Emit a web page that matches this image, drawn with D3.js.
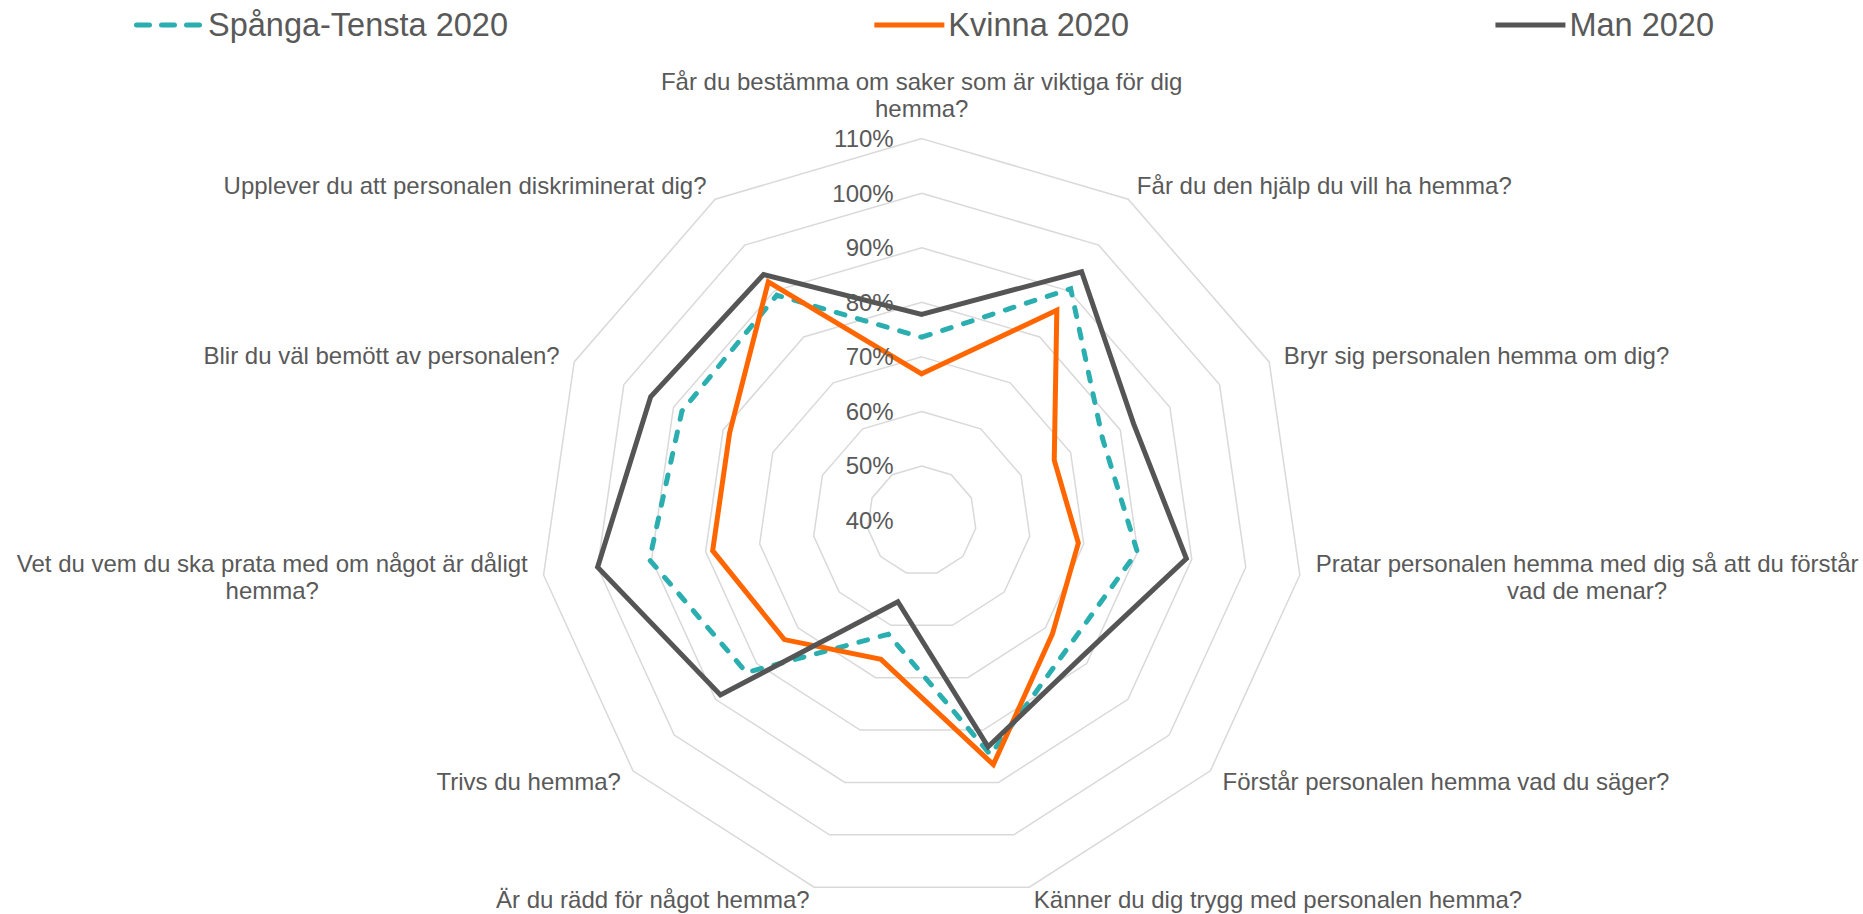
<!DOCTYPE html>
<html>
<head>
<meta charset="utf-8">
<script src="https://cdn.jsdelivr.net/npm/d3@7"></script>
<style>
  body { margin: 0; background: #fff; }
  svg { display: block; font-family: "Liberation Sans", Arial, sans-serif; }
</style>
</head>
<body>
<svg id="chart" width="1863" height="914"></svg>
<script>
// Survey questions (one spoke each, clockwise from the top)
const categories = [
  "Får du bestämma om saker som är viktiga för dig hemma?",
  "Får du den hjälp du vill ha hemma?",
  "Bryr sig personalen hemma om dig?",
  "Pratar personalen hemma med dig så att du förstår vad de menar?",
  "Förstår personalen hemma vad du säger?",
  "Känner du dig trygg med personalen hemma?",
  "Är du rädd för något hemma?",
  "Trivs du hemma?",
  "Vet du vem du ska prata med om något är dåligt hemma?",
  "Blir du väl bemött av personalen?",
  "Upplever du att personalen diskriminerat dig?"
];

// Share answering positively, per question
const spangaTensta = [0.736, 0.905, 0.764, 0.799, 0.755, 0.847, 0.617, 0.825, 0.904, 0.883, 0.891];
const kvinna       = [0.669, 0.858, 0.667, 0.690, 0.717, 0.866, 0.665, 0.733, 0.787, 0.787, 0.920];
const man          = [0.778, 0.942, 0.827, 0.890, 0.785, 0.832, 0.555, 0.888, 1.000, 0.946, 0.936];

const seriesNames = ["Spånga-Tensta 2020", "Kvinna 2020", "Man 2020"];
const tickValues = [0.4, 0.5, 0.6, 0.7, 0.8, 0.9, 1.0, 1.1];

const series = [
  { name: seriesNames[0], values: spangaTensta, color: "#2BAEAF", dash: "9 13", legendDash: "13 12" },
  { name: seriesNames[1], values: kvinna,       color: "#FF6600", dash: null },
  { name: seriesNames[2], values: man,          color: "#555555", dash: null }
];

const width = 1863, height = 914;
const cx = 921.7, cy = 520.6, radius = 382;
const textColor = "#595959";
const labelFont = 24, legendFont = 32.5, lineHeight = 27.5;

const svg = d3.select("#chart");

const r = d3.scaleLinear().domain([tickValues[0], tickValues[tickValues.length - 1]]).range([0, radius]);
const angle = d3.scaleLinear().domain([0, categories.length]).range([0, 2 * Math.PI]);
const pct = d3.format(".0%");

const plot = svg.append("g").attr("transform", `translate(${cx},${cy})`);

// Concentric grid polygons
const gridLine = level => d3.lineRadial()
  .angle((d, i) => angle(i))
  .radius(() => r(level))
  .curve(d3.curveLinearClosed)(categories);

plot.append("g").selectAll("path")
  .data(tickValues.filter(t => r(t) > 0))
  .join("path")
  .attr("d", gridLine)
  .attr("fill", "none")
  .attr("stroke", "#D9D9D9")
  .attr("stroke-width", 1.5);

// Series outlines
const seriesLine = d3.lineRadial()
  .angle((d, i) => angle(i))
  .radius(d => r(d))
  .curve(d3.curveLinearClosed);

plot.append("g").selectAll("path")
  .data(series)
  .join("path")
  .attr("d", d => seriesLine(d.values))
  .attr("fill", "none")
  .attr("stroke", d => d.color)
  .attr("stroke-width", 5)
  .attr("stroke-linejoin", "miter")
  .attr("stroke-linecap", d => d.dash ? "round" : "butt")
  .attr("stroke-dasharray", d => d.dash);

// Radial value labels along the top spoke
plot.append("g").selectAll("text")
  .data(tickValues)
  .join("text")
  .attr("x", -28)
  .attr("y", d => -r(d))
  .attr("dy", "0.35em")
  .attr("text-anchor", "end")
  .attr("font-size", labelFont)
  .attr("fill", textColor)
  .text(d => pct(d));

// Category labels, wrapped to a max width
const measurer = svg.append("text").attr("font-size", labelFont).attr("visibility", "hidden");
const measure = s => { measurer.text(s); return measurer.node().getComputedTextLength(); };
function wrap(str, maxW) {
  const words = str.split(" ");
  const lines = [];
  let cur = "";
  words.forEach(w => {
    const test = cur ? cur + " " + w : w;
    if (cur && measure(test) > maxW) { lines.push(cur); cur = w; }
    else cur = test;
  });
  if (cur) lines.push(cur);
  return lines;
}

const labelGap = 16;
const maxCentreY = height - cy - 0.6 * labelFont;   // keep descenders inside the canvas
const labelG = plot.append("g");
categories.forEach((cat, i) => {
  const a = angle(i);
  const px = Math.sin(a) * (radius + labelGap);
  const py = -Math.cos(a) * (radius + labelGap);
  const lines = wrap(cat, 550);
  const blockW = d3.max(lines, measure);
  const n = lines.length;
  let xMid, y0;
  if (Math.abs(Math.sin(a)) < 0.01) {
    xMid = px;
    y0 = py - (n - 0.5) * lineHeight;          // block sits above the spoke tip
  } else {
    xMid = Math.sin(a) > 0 ? px + blockW / 2 : px - blockW / 2;
    y0 = py - (n - 1) * lineHeight / 2;        // block centred on the spoke
  }
  y0 = Math.min(y0, maxCentreY - (n - 1) * lineHeight);
  lines.forEach((ln, k) => {
    labelG.append("text")
      .attr("x", xMid)
      .attr("y", y0 + k * lineHeight)
      .attr("dy", "0.35em")
      .attr("text-anchor", "middle")
      .attr("font-size", labelFont)
      .attr("fill", textColor)
      .text(ln);
  });
});
measurer.remove();

// Legend across the top, spread evenly over the chart width
const legendY = 25, sampleW = 70, sampleGap = 4;
const legendSpan = [134, 1714];
const legend = svg.append("g");
const items = series.map(s => {
  const g = legend.append("g");
  g.append("line")
    .attr("x1", s.dash ? 2.5 : 0).attr("x2", s.dash ? sampleW - 2.5 : sampleW)
    .attr("y1", legendY).attr("y2", legendY)
    .attr("stroke", s.color)
    .attr("stroke-width", 5)
    .attr("stroke-linecap", s.dash ? "round" : "butt")
    .attr("stroke-dasharray", s.legendDash || null);
  const t = g.append("text")
    .attr("x", sampleW + sampleGap)
    .attr("y", legendY)
    .attr("dy", "0.35em")
    .attr("font-size", legendFont)
    .attr("fill", textColor)
    .text(s.name);
  return { g, w: sampleW + sampleGap + t.node().getComputedTextLength() };
});
const totalW = d3.sum(items, d => d.w);
const gap = (legendSpan[1] - legendSpan[0] - totalW) / (items.length - 1);
let lx = legendSpan[0];
items.forEach(it => {
  it.g.attr("transform", `translate(${lx},0)`);
  lx += it.w + gap;
});
</script>
</body>
</html>
